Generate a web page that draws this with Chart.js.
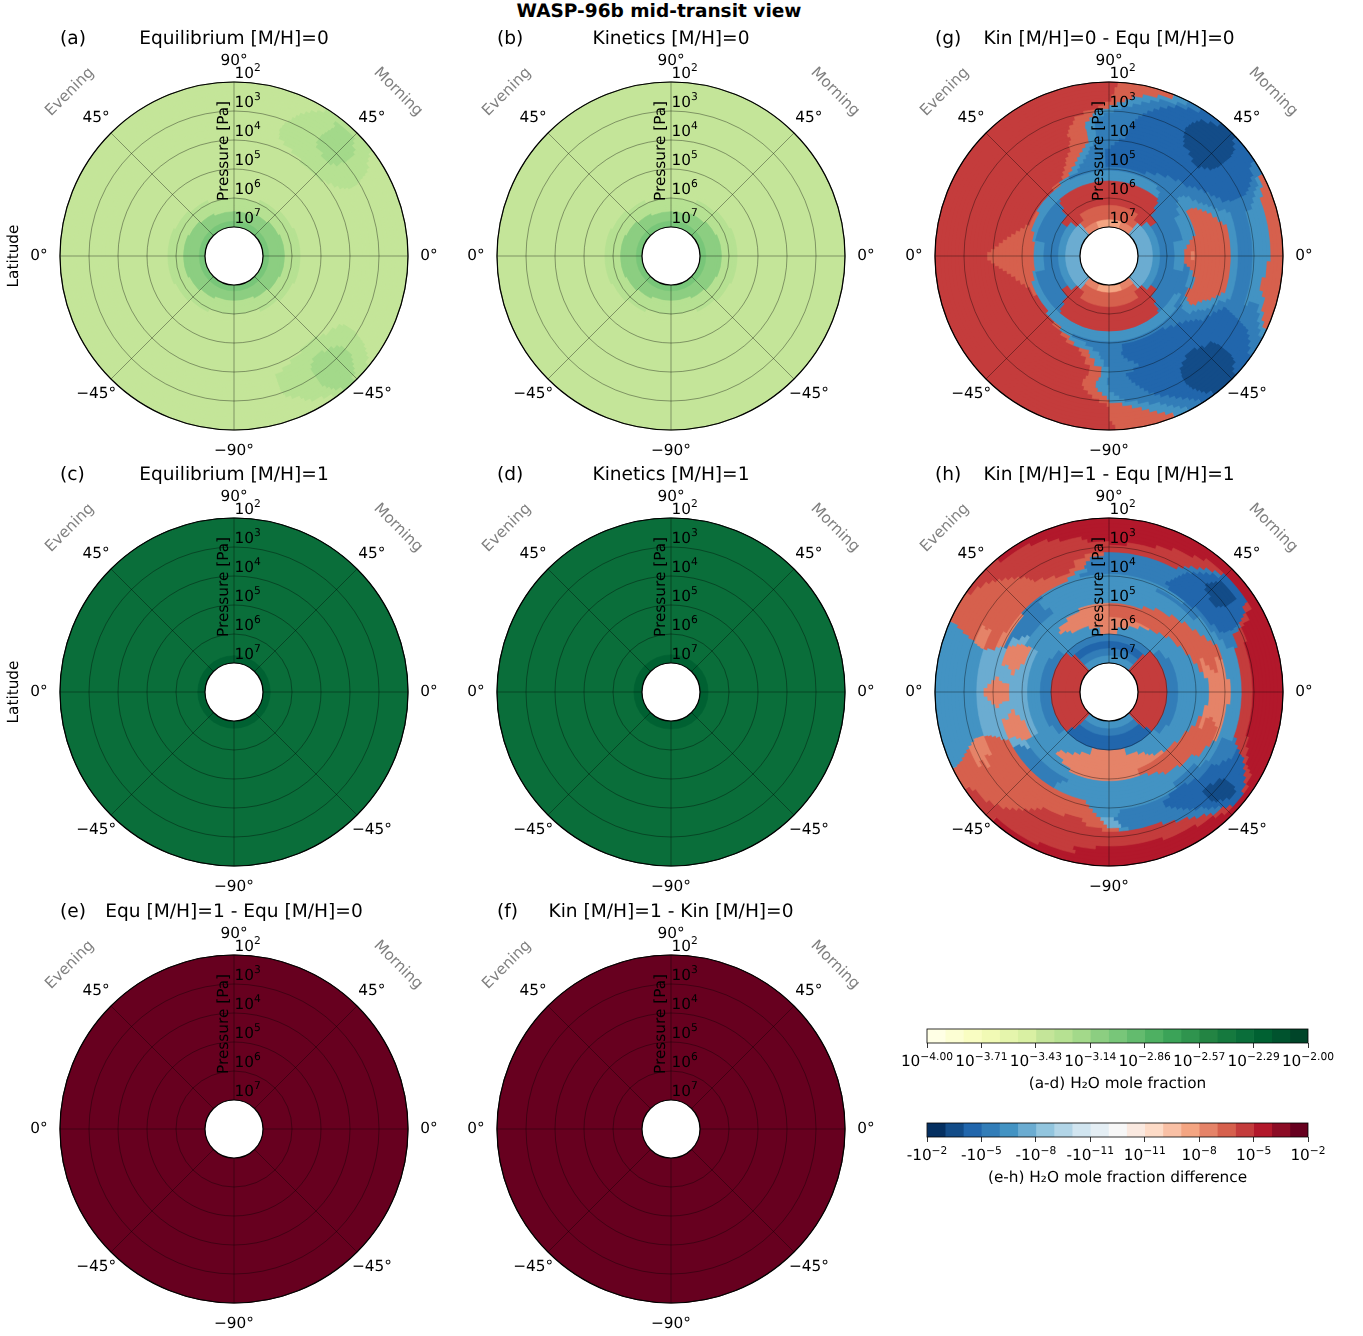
<!DOCTYPE html>
<html lang="en">
<head>
<meta charset="UTF-8">
<title>WASP-96b mid-transit view</title>
<script src="https://cdn.jsdelivr.net/npm/chart.js"></script>
<style>
html, body { margin: 0; width: 1363px; height: 1336px; overflow: hidden; background: #fff; }
canvas { position: absolute; }
h1 { position: absolute; left: 0; top: 1px; width: 1318px; margin: 0; text-align: center;
     font: bold 18.55px "DejaVu Sans"; color: #000; text-rendering: geometricPrecision; }
</style>
</head>
<body>
<h1>WASP-96b mid-transit view</h1>
<script>
// colour bands of the two colour bars, index = band number
const greens = ['#ffffe5','#fcfed3','#f9fdc2','#f1fab5','#e5f5ac','#d9f0a3','#c4e599','#b6e192','#a3d98a','#8cce81','#78c679',
                '#63bb6e','#4eb062','#3ba358','#2f944e','#238443','#15793e','#0a6e3a','#006132','#00532e','#004529'];
const rdbu = ['#053061','#134c88','#2166ac','#327db8','#4393c3','#6bacd1','#92c5de','#b2d5e7','#d1e5f0','#e4eef4','#f7f7f7',
              '#fae9e0','#fddbc7','#f9c0a5','#f4a582','#e58368','#d6604d','#c43c3c','#b2182b','#8c0c25','#67001f'];

const latLabels = ['90°','45°','0°','−45°','−90°','−45°','0°','45°'];
const pressureExponents = [2,3,4,5,6,7];
const panelLetters = ['(a)','(b)','(c)','(d)','(e)','(f)','(g)','(h)'];
const panelTitles = ['Equilibrium [M/H]=0','Kinetics [M/H]=0','Equilibrium [M/H]=1','Kinetics [M/H]=1',
                     'Equ [M/H]=1 - Equ [M/H]=0','Kin [M/H]=1 - Kin [M/H]=0','Kin [M/H]=0 - Equ [M/H]=0','Kin [M/H]=1 - Equ [M/H]=1'];

const moleTicks = ['−4.00','−3.71','−3.43','−3.14','−2.86','−2.57','−2.29','−2.00'];
const diffPrefix = ['-10','-10','-10','-10','10','10','10','10'];
const diffTicks = ['−2','−5','−8','−11','−11','−8','−5','−2'];

// each ring: [log10 pressure of its outer edge, [[end angle clockwise from 90° north, band], ...]]
const panelA = [
  [2,      [[32,6],[53,7],[129,6],[136,7],[141,8],[145,7],[360,6]]],
  [2.1875, [[30,6],[37,7],[46,8],[54,7],[127,6],[134,7],[143,8],[148,7],[360,6]]],
  [2.3125, [[28,6],[38,7],[47,8],[55,7],[126,6],[133,7],[144,8],[152,7],[360,6]]],
  [2.4375, [[26.5,6],[37.5,7],[49,8],[57,7],[125,6],[132,7],[145,8],[154,7],[360,6]]],
  [2.5625, [[25,6],[37,7],[50,8],[58,7],[124,6],[131,7],[146,8],[155,7],[360,6]]],
  [2.6875, [[24,6],[36.5,7],[50,8],[58.5,7],[123.5,6],[130,7],[146,8],[158,7],[360,6]]],
  [2.8125, [[23,6],[36,7],[50,8],[59,7],[123,6],[130,7],[146,8],[160,7],[360,6]]],
  [2.9375, [[22,6],[36,7],[50,8],[59.5,7],[122.5,6],[130,7],[146,8],[160.5,7],[360,6]]],
  [3.0625, [[21,6],[36,7],[49,8],[60,7],[122,6],[130,7],[146,8],[161,7],[360,6]]],
  [3.1875, [[20.5,6],[37,7],[49,8],[60,7],[122,6],[131,7],[146,8],[161,7],[360,6]]],
  [3.3125, [[20,6],[41,7],[47,8],[60,7],[122,6],[133,7],[145,8],[161,7],[360,6]]],
  [3.4375, [[20.5,6],[59,7],[122,6],[137,7],[143,8],[161,7],[360,6]]],
  [3.5625, [[21,6],[58,7],[123,6],[161,7],[360,6]]],
  [3.6875, [[24,6],[56,7],[126,6],[157,7],[360,6]]],
  [3.8125, [[29,6],[53,7],[131,6],[152,7],[360,6]]],
  [3.9375, [[35,6],[50,7],[134,6],[145,7],[360,6]]],
  [4.0625, [[360,6]]],
  [5.72, [[65,6],[115,7],[245,6],[295,7],[360,6]]],
  [5.79, [[45,6],[135,7],[225,6],[315,7],[360,6]]],
  [5.88, [[25,6],[155,7],[205,6],[335,7],[360,6]]],
  [6,    [[360,7]]],
  [6.26, [[65,7],[115,9],[245,7],[295,9],[360,7]]],
  [6.32, [[45,7],[135,9],[225,7],[315,9],[360,7]]],
  [6.39, [[25,7],[155,9],[205,7],[335,9],[360,7]]],
  [6.47, [[360,9]]],
  [6.8,  [[360,10]]]
];
const panelB = [
  [2,    [[360,6]]],
  [5.72, [[65,6],[115,7],[245,6],[295,7],[360,6]]],
  [5.79, [[45,6],[135,7],[225,6],[315,7],[360,6]]],
  [5.88, [[25,6],[155,7],[205,6],[335,7],[360,6]]],
  [6,    [[360,7]]],
  [6.26, [[65,7],[115,9],[245,7],[295,9],[360,7]]],
  [6.32, [[45,7],[135,9],[225,7],[315,9],[360,7]]],
  [6.39, [[25,7],[155,9],[205,7],[335,9],[360,7]]],
  [6.47, [[360,9]]],
  [6.8,  [[360,10]]]
];
const panelC = [[2,[[360,17]]],[6.75,[[360,18]]]];
const panelD = [[2,[[360,17]]],[6.72,[[360,18]]]];
const panelE = [[2,[[360,20]]]];
const panelF = [[2,[[360,20]]]];
const panelG = [
  [2,      [[3,17],[22,16],[27,4],[32,3],[40,2],[47,1],[57,2],[62,3],[115,16],[118,4],[125,3],[133,2],[143,1],[148,2],[153,3],[158,4],[178,16],[360,17]]],
  [2.1875, [[2,17],[17,16],[24,4],[28,3],[37,2],[48.5,1],[58,2],[62,3],[66,4],[113,16],[116,4],[123,3],[132,2],[145,1],[149.5,2],[155,3],[160.5,4],[179,16],[360,17]]],
  [2.3125, [[2,17],[12,16],[18,4],[24,3],[34,2],[50,1],[61,2],[65,3],[69,4],[110,16],[114,4],[121,3],[130,2],[146,1],[151,2],[157,3],[163,4],[180,16],[360,17]]],
  [2.4375, [[1,17],[8.5,16],[15,4],[21.5,3],[33,2],[50.5,1],[62.5,2],[66,3],[92,4],[105,16],[111,4],[119.5,3],[129.5,2],[147,1],[153,2],[159,3],[165.5,4],[180,16],[360,17]]],
  [2.5625, [[1,17],[6,16],[12,4],[19,3],[32,2],[51,1],[64,2],[68,3],[98,4],[103,16],[108,4],[118,3],[129,2],[148,1],[155,2],[161,3],[168,4],[180,16],[360,17]]],
  [2.6875, [[3,16],[9,4],[17,3],[31.5,2],[51,1],[65,2],[70,3],[108,4],[117.5,3],[129,2],[148.5,1],[157,2],[165,3],[171.5,4],[180,16],[358,17],[360,16]]],
  [2.8125, [[5,4],[15,3],[31,2],[51,1],[66,2],[72,3],[108,4],[117,3],[129,2],[149,1],[160,2],[169,3],[175,4],[181,16],[356,17],[360,16]]],
  [2.9375, [[2,4],[13.5,3],[31.5,2],[51,1],[66,2],[72,3],[110,4],[116.5,3],[129,2],[149,1],[162,2],[174,3],[180,4],[184,16],[350,17],[354.5,16],[360,4]]],
  [3.0625, [[12,3],[32,2],[51,1],[66,2],[116,3],[129,2],[149,1],[164,2],[176,3],[181,4],[187,16],[346,17],[353.5,16],[358,4],[360,3]]],
  [3.1875, [[11,3],[33,2],[50.5,1],[66,2],[115.5,3],[129.5,2],[148.5,1],[165.5,2],[178,3],[183,4],[189,16],[345,17],[352,16],[356,4],[360,3]]],
  [3.3125, [[10,3],[34,2],[50,1],[66,2],[115,3],[130,2],[148,1],[167,2],[180,3],[185,4],[191,16],[343,17],[350,16],[354,4],[360,3]]],
  [3.4375, [[9.5,3],[38,2],[48,1],[65,2],[114.5,3],[134,2],[146,1],[168.5,2],[180,3],[186,4],[192,16],[342,17],[349.6,16],[354,4],[360,3]]],
  [3.5625, [[9,3],[41,2],[46,1],[65,2],[70,3],[110,4],[114,3],[137,2],[143,1],[170,2],[181,3],[186,4],[192,16],[341,17],[350,16],[354,4],[360,3]]],
  [3.6875, [[8.5,3],[62,2],[68,3],[112,4],[116,3],[171,2],[181,3],[185,4],[191,16],[342,17],[350,16],[354,4],[360,3]]],
  [3.8125, [[8,3],[60,2],[68,3],[75,4],[108,16],[112,4],[118,3],[172,2],[180,3],[184,4],[190,16],[268,17],[272,16],[341,17],[350,16],[354,4],[360,3]]],
  [3.9375, [[5,3],[57,2],[66,3],[73,4],[110,16],[115,4],[121,3],[168,2],[180,3],[184,4],[190,16],[266.5,17],[273.5,16],[340,17],[350,16],[353,4],[360,3]]],
  [4.0625, [[3,3],[54,2],[64,3],[70,4],[112,16],[118,4],[125,3],[165,2],[180,3],[184,4],[190,16],[265,17],[275,16],[340,17],[348,16],[352,4],[360,3]]],
  [4.1875, [[1,3],[51,2],[62,3],[67,4],[114,16],[120,4],[126,3],[167,2],[183,3],[188,4],[193,16],[263.5,17],[277,16],[338,17],[346,16],[350,4],[360,3]]],
  [4.3125, [[49,2],[60,3],[65,4],[115,16],[121,4],[128,3],[170,2],[183,3],[188,4],[193,16],[262,17],[279,16],[336,17],[344,16],[349,4],[358,3],[360,2]]],
  [4.4375, [[42,2],[57,3],[63,4],[117,16],[123,4],[130,3],[172,2],[185,3],[191,4],[196,16],[260,17],[281,16],[335,17],[342,16],[347,4],[358,3],[360,2]]],
  [4.5625, [[36,2],[53,3],[61,4],[120,16],[126,4],[133,3],[173,2],[186,3],[192,4],[198,16],[258,17],[283,16],[333,17],[340,16],[345,4],[358,3],[360,2]]],
  [4.6875, [[30,2],[51,3],[60,4],[121,16],[126,4],[138,3],[172,2],[190,3],[202,4],[207,16],[255,17],[285.5,16],[331,17],[337,16],[342,4],[358,3],[360,2]]],
  [4.8125, [[24,2],[50,3],[60,4],[120,16],[126,4],[143,3],[172,2],[195,3],[206,4],[212,16],[252,17],[288,16],[329,17],[334,16],[340,4],[358,3],[360,2]]],
  [4.9375, [[52,3],[77,4],[104,16],[112,4],[118,16],[124,4],[205,3],[214,4],[220,16],[249,17],[291,16],[320,17],[326,16],[333,4],[360,3]]],
  [5.0625, [[35,4],[55,3],[79,4],[87,16],[93,15],[100,16],[112,4],[128,3],[228,4],[242,17],[302,16],[360,4]]],
  [5.1875, [[39,4],[60,3],[82,4],[98,16],[118,3],[252,4],[288,16],[360,4]]],
  [5.3125, [[40,4],[60,3],[85,4],[96,16],[120,3],[259,4],[281,16],[360,4]]],
  [5.41,   [[41,17],[78,3],[102,4],[139,3],[221,17],[258,3],[282,4],[319,3],[360,17]]],
  [5.5,    [[43,17],[78,3],[102,4],[137,3],[223,17],[258,3],[282,4],[317,3],[360,17]]],
  [5.75,   [[46,17],[134,3],[226,17],[314,3],[360,17]]],
  [6,      [[55,17],[125,3],[235,17],[305,3],[360,17]]],
  [6.25,   [[35,16],[48,17],[132,4],[145,17],[215,16],[228,17],[312,4],[325,17],[360,16]]],
  [6.5,    [[41,16],[139,5],[221,16],[319,5],[360,16]]],
  [6.75,   [[20,14],[42,15],[138,5],[160,15],[200,14],[222,15],[318,5],[340,15],[360,14]]]
];
const panelH = [
  [2,      [[222,18],[236,17],[244,16],[294,4],[305,16],[320,17],[360,18]]],
  [2.1875, [[124,18],[127,17],[133,2],[137,17],[205,18],[234,17],[244.5,16],[294,4],[309,16],[332,17],[360,18]]],
  [2.3125, [[36,18],[44,17],[57,2],[60,17],[120,18],[124,17],[135,2],[140,17],[192,18],[228,17],[245,16],[293,4],[312,16],[338,17],[360,18]]],
  [2.4375, [[32,18],[41,17],[44,3],[57.5,2],[60,17],[119,18],[122,17],[128,2],[132,1],[136,2],[140,3],[147,17],[193,18],[225,17],[246,16],[293,4],[314,16],[342,17],[360,18]]],
  [2.5625, [[24,18],[38,17],[41,3],[45,2],[54,1],[60,2],[63,17],[118,18],[120,17],[127,2],[134,1],[138,2],[142,3],[160,17],[185,18],[222,17],[247,16],[292,4],[316,16],[350,17],[360,18]]],
  [2.6875, [[18,18],[36,17],[39,3],[44,2],[54,1],[61,2],[63,17],[115,18],[118,17],[127,2],[136,1],[140,2],[145.5,3],[220,17],[248,16],[292,4],[318,16],[352,17],[360,18]]],
  [2.8125, [[7,18],[33,17],[37,3],[43,2],[54,1],[62,2],[64,17],[112,18],[116,17],[127,2],[137,1],[141,2],[148,3],[218,17],[240,16],[249,15],[291,4],[320,16],[360,17]]],
  [2.9375, [[31,17],[35,3],[42,2],[54,1],[62.5,2],[64,3],[70,17],[108,18],[115.5,17],[127,2],[137,1],[144,2],[153,3],[216,17],[242,16],[250,15],[291,4],[322,16],[360,17]]],
  [3.0625, [[29,17],[33,3],[43,2],[53,1],[63,2],[65,3],[114,17],[128,2],[137,1],[146,2],[158,3],[214,17],[238,16],[251,15],[290,4],[298,15],[324,16],[360,17]]],
  [3.1875, [[32,3],[47,2],[52,1],[63.5,2],[65,3],[112.7,17],[119,3],[132,2],[137,1],[148,2],[172,3],[176,4],[183,16],[212,17],[243,16],[251,15],[289.5,4],[297,15],[325,16],[350,17],[358,16],[360,3]]],
  [3.3125, [[31,3],[63,2],[71,3],[110,17],[121,3],[150,2],[175,3],[181,5],[190,16],[210,17],[242,16],[251,15],[289,4],[298,15],[326,16],[345,17],[352,16],[360,3]]],
  [3.4375, [[30,3],[63,2],[70,3],[112,4],[124,3],[152,2],[176,3],[182.5,5],[192,16],[200,17],[250.5,16],[289,5],[330,16],[345,17],[350,16],[360,3]]],
  [3.5625, [[29,3],[62,2],[70,3],[112,4],[125,3],[154,2],[178,3],[184,5],[250,16],[290,5],[335,16],[342,17],[349,16],[360,3]]],
  [3.6875, [[27.5,3],[57,2],[65,3],[112,4],[135,3],[154,2],[176,3],[186,4],[249,16],[268,5],[272,15],[290,5],[344,16],[350,4],[360,3]]],
  [3.8125, [[30,3],[45,2],[60,3],[84,4],[96,15],[125,4],[140,3],[150,2],[175,3],[188,4],[248,16],[266,5],[274,15],[292,5],[300,15],[340,16],[346,4],[360,3]]],
  [3.9375, [[40,4],[50,3],[66,4],[74,16],[115,15],[130,4],[145,3],[190,4],[246,16],[264,5],[276,15],[293,5],[312,15],[325,3],[360,4]]],
  [4.0625, [[25,4],[50,3],[63,4],[72,16],[108,15],[119,16],[130,4],[145,3],[192,4],[245,16],[262,5],[278,15],[293,5],[322,3],[360,4]]],
  [4.1875, [[59,4],[80,16],[106,15],[126,16],[210,4],[240,3],[245,5],[256,15],[264,5],[276,15],[284,5],[295,15],[300,5],[322,3],[360,4]]],
  [4.3125, [[54,4],[78,16],[104,15],[127,16],[210,4],[240,3],[245,5],[255,15],[265,5],[275,15],[285,5],[296,15],[300,5],[322,3],[360,4]]],
  [4.4375, [[47,4],[75,16],[105,15],[137,16],[208,4],[238,3],[243,5],[258,15],[265,5],[275,15],[283,5],[298,15],[303,5],[325,3],[360,4]]],
  [4.5625, [[39,4],[70,16],[82,15],[98,4],[112,15],[146,16],[205,4],[235,3],[241,5],[260,15],[280,5],[299,15],[305,5],[325,3],[360,4]]],
  [4.6875, [[29,4],[78,16],[105,4],[149,16],[240,4],[256,15],[284,5],[299,15],[360,4]]],
  [4.8125, [[22,4],[72,16],[112,4],[155,16],[240,4],[252,15],[288,5],[300,15],[360,4]]],
  [4.9375, [[65,16],[117,4],[160,16],[207,15],[240,4],[300,5],[340,4],[360,15]]],
  [5.0625, [[57,16],[127,4],[160,16],[214,15],[240,4],[300,5],[330,4],[360,15]]],
  [5.1875, [[47,16],[138,4],[221,15],[322,4],[360,15]]],
  [5.3125, [[40,16],[145,4],[220,15],[320,4],[360,15]]],
  [5.42,   [[33,15],[148,4],[215,15],[325,4],[360,15]]],
  [5.5,    [[25,15],[150,4],[210,15],[328,4],[360,15]]],
  [5.625,  [[17,15],[60,4],[120,3],[155,4],[205,15],[240,4],[300,3],[343,4],[360,15]]],
  [5.75,   [[8,15],[50,4],[130,3],[165,4],[197,15],[230,4],[310,3],[352,4],[360,15]]],
  [6,      [[45,3],[133,17],[227,2],[313,17],[360,3]]],
  [6.25,   [[42,2],[137,17],[223,2],[318,17],[360,2]]],
  [6.5,    [[42,3],[138,17],[222,3],[318,17],[360,3]]],
  [6.75,   [[42,4],[138,17],[222,4],[318,17],[360,4]]]
];

const panelRings = [panelA, panelB, panelC, panelD, panelE, panelF, panelG, panelH];
const panelPalettes = [greens, greens, greens, greens, rdbu, rdbu, rdbu, rdbu];
const panelCols = [234, 671, 234, 671, 234, 671, 1109, 1109];
const panelRows = [256, 256, 692, 692, 1129, 1129, 256, 692];
const FONT = '"DejaVu Sans"';
const HALF = 232;

function drawPower(ctx, prefix, exp, x, y, align) {
  ctx.font = '15.3px ' + FONT;
  const w1 = ctx.measureText(prefix).width;
  ctx.font = '10.7px ' + FONT;
  const w2 = ctx.measureText(exp).width;
  const x0 = align === 'center' ? x - (w1 + w2) / 2 : x;
  ctx.textAlign = 'left';
  ctx.textBaseline = 'alphabetic';
  ctx.font = '15.3px ' + FONT;
  ctx.fillText(prefix, x0, y);
  ctx.font = '10.7px ' + FONT;
  ctx.fillText(exp, x0 + w1, y - 6.5);
}

function rotatedText(ctx, text, x, y, angle, color, size) {
  ctx.save();
  ctx.translate(x, y);
  ctx.rotate(angle);
  ctx.font = size + 'px ' + FONT;
  ctx.fillStyle = color;
  ctx.textAlign = 'center';
  ctx.textBaseline = 'middle';
  ctx.fillText(text, 0, 0);
  ctx.restore();
}

// hole, outline, labels on top of the rings and the grid
const panelDecor = {
  id: 'panelDecor',
  afterDraw(chart, args, opts) {
    const ctx = chart.ctx, r = chart.scales.r;
    const cx = r.xCenter, cy = r.yCenter;
    ctx.save();
    ctx.textRendering = 'geometricPrecision';
    ctx.beginPath();
    ctx.arc(cx, cy, r.getDistanceFromCenterForValue(7), 0, Math.PI * 2);
    ctx.fillStyle = '#fff';
    ctx.fill();
    ctx.strokeStyle = '#000';
    ctx.lineWidth = 1.2;
    ctx.stroke();
    ctx.beginPath();
    ctx.arc(cx, cy, r.getDistanceFromCenterForValue(2), 0, Math.PI * 2);
    ctx.stroke();

    ctx.fillStyle = '#000';
    ctx.font = '15.3px ' + FONT;
    ctx.textAlign = 'center';
    ctx.textBaseline = 'middle';
    latLabels.forEach((lab, i) => {
      const p = r.getPointPosition(i, 195);
      ctx.fillText(lab, p.x, p.y);
    });
    pressureExponents.forEach(e => {
      drawPower(ctx, '10', String(e), cx + 0.5, cy - r.getDistanceFromCenterForValue(e) - 4.2, 'left');
    });
    rotatedText(ctx, 'Pressure [Pa]', cx - 9.5, cy - 105, -Math.PI / 2, '#000', 15.3);
    rotatedText(ctx, 'Evening', cx - 164, cy - 164, -Math.PI / 4, '#808080', 15.3);
    rotatedText(ctx, 'Morning', cx + 164, cy - 164, Math.PI / 4, '#808080', 15.3);
    if (opts.latitude) rotatedText(ctx, 'Latitude', cx - 220, cy, -Math.PI / 2, '#000', 15.3);

    ctx.fillStyle = '#000';
    ctx.font = '18.6px ' + FONT;
    ctx.textBaseline = 'middle';
    ctx.textAlign = 'center';
    ctx.fillText(opts.title, cx, cy - 217);
    ctx.textAlign = 'left';
    ctx.fillText(opts.letter, cx - 174, cy - 217);
    ctx.restore();
  }
};

function addCanvas(left, top, w, h) {
  const c = document.createElement('canvas');
  c.width = w; c.height = h;
  c.style.left = left + 'px';
  c.style.top = top + 'px';
  document.body.appendChild(c);
  return c;
}

panelRings.forEach((rings, p) => {
  const palette = panelPalettes[p];
  // first dataset is drawn last, so the innermost ring goes first
  const datasets = rings.slice().reverse().map(([logP, runs]) => {
    let start = 0;
    const angle = runs.map(([end]) => { const a = end - start; start = end; return a; });
    const colors = runs.map(([, band]) => palette[band]);
    return { data: runs.map(() => logP), angle, backgroundColor: colors, borderColor: colors, borderWidth: 0.6 };
  });
  new Chart(addCanvas(panelCols[p] - HALF, panelRows[p] - HALF, HALF * 2, HALF * 2), {
    type: 'polarArea',
    data: { labels: latLabels, datasets },
    plugins: [panelDecor],
    options: {
      responsive: false,
      animation: false,
      layout: { padding: HALF - 174 },
      plugins: {
        legend: { display: false },
        tooltip: { enabled: false },
        panelDecor: { title: panelTitles[p], letter: panelLetters[p], latitude: p === 0 || p === 2 }
      },
      scales: {
        r: {
          type: 'radialLinear',
          min: 2, max: 8, reverse: true,
          startAngle: 0,
          ticks: { display: false, stepSize: 1, reverse: true },
          pointLabels: { display: false },
          angleLines: { display: true, color: 'rgba(0,0,0,0.45)', lineWidth: 0.8 },
          grid: { circular: true, z: 1, color: 'rgba(0,0,0,0.45)', lineWidth: 0.8 }
        }
      }
    }
  });
});

// the two colour bars
const barDecor = {
  id: 'barDecor',
  afterDraw(chart, args, opts) {
    const ctx = chart.ctx, a = chart.chartArea, x = chart.scales.x;
    ctx.save();
    ctx.textRendering = 'geometricPrecision';
    ctx.strokeStyle = '#000';
    ctx.lineWidth = 0.8;
    ctx.strokeRect(a.left, a.top, a.right - a.left, a.bottom - a.top);
    ctx.fillStyle = '#000';
    opts.exps.forEach((e, i) => {
      drawPower(ctx, opts.prefix[i], e, x.getPixelForValue(i * 3), a.bottom + 23, 'center');
    });
    ctx.font = '15.3px ' + FONT;
    ctx.textAlign = 'center';
    ctx.textBaseline = 'middle';
    ctx.fillText(opts.label, (a.left + a.right) / 2, a.bottom + 41.5);
    ctx.restore();
  }
};

function colorbar(top, palette, prefix, exps, label) {
  new Chart(addCanvas(860, top, 490, 75), {
    type: 'bar',
    data: {
      labels: [''],
      datasets: palette.map(col => ({ data: [1], backgroundColor: col, borderWidth: 0, barPercentage: 1, categoryPercentage: 1 }))
    },
    plugins: [barDecor],
    options: {
      indexAxis: 'y',
      responsive: false,
      animation: false,
      layout: { padding: { left: 67, right: 42, top: 9, bottom: 47 } },
      plugins: { legend: { display: false }, tooltip: { enabled: false }, barDecor: { prefix, exps, label } },
      scales: {
        y: { display: false, stacked: true },
        x: {
          type: 'linear', stacked: true, min: 0, max: 21,
          afterFit(s) { s.height = 5; },
          border: { display: false },
          ticks: { display: false, stepSize: 3 },
          grid: { drawOnChartArea: false, drawTicks: true, tickLength: 5, color: '#000', lineWidth: 0.8 }
        }
      }
    }
  });
}
colorbar(1020, greens, moleTicks.map(() => '10'), moleTicks, '(a-d) H₂O mole fraction');
colorbar(1114, rdbu, diffPrefix, diffTicks, '(e-h) H₂O mole fraction difference');
</script>
</body>
</html>
